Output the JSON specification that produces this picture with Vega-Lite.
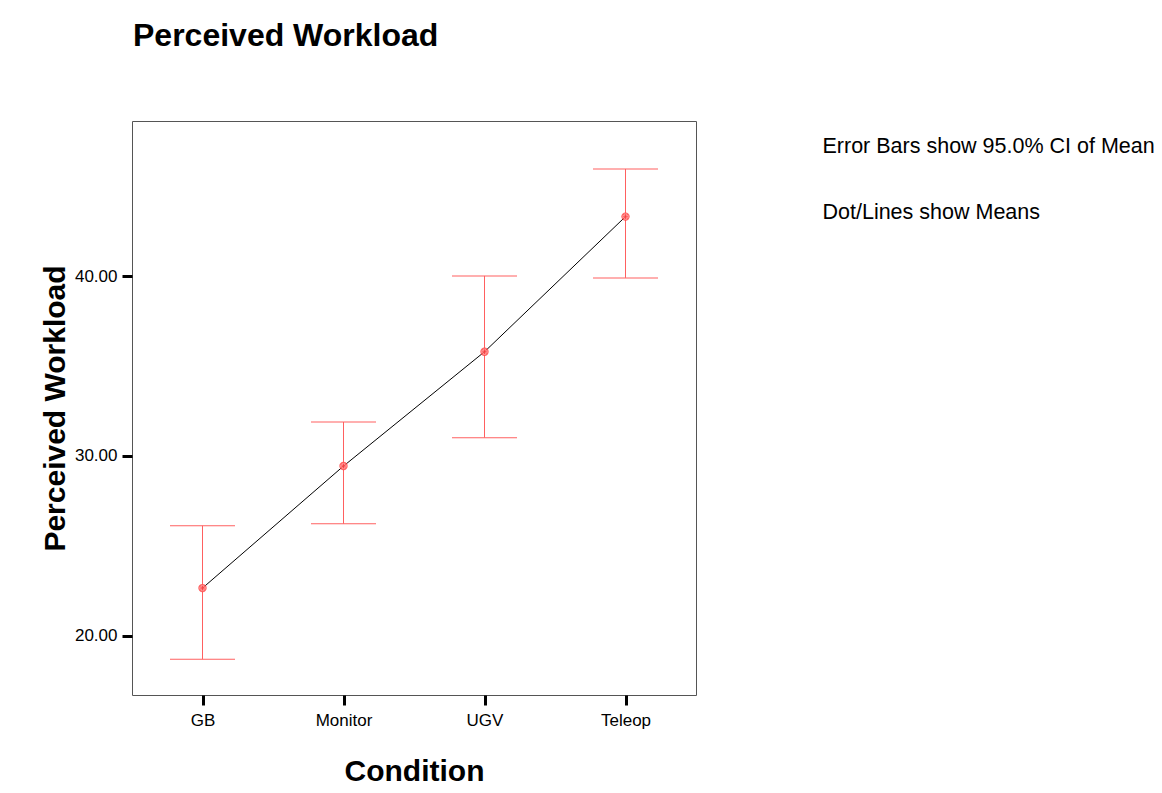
{
  "$schema": "https://vega.github.io/schema/vega-lite/v6.json",
  "autosize": "none",
  "width": 564,
  "height": 574,
  "padding": {"left": 132, "top": 121, "right": 466, "bottom": 98},
  "background": "white",
  "title": {
    "text": "Perceived Workload",
    "anchor": "start",
    "frame": "group",
    "fontSize": 32,
    "fontWeight": "bold",
    "baseline": "alphabetic",
    "offset": 43,
    "dx": 1,
    "color": "black"
  },
  "config": {
    "font": "Liberation Sans",
    "view": {"stroke": "#555555", "strokeWidth": 1},
    "axis": {
      "domain": false,
      "grid": false,
      "tickColor": "black",
      "tickWidth": 3,
      "tickSize": 10,
      "labelColor": "black",
      "labelFontSize": 17,
      "labelPadding": 5,
      "titleColor": "black",
      "titleFontSize": 30,
      "titleFontWeight": "bold"
    }
  },
  "datasets": {
    "stats": [
      {"condition": "GB", "mean": 22.65, "lower": 18.69, "upper": 26.12},
      {"condition": "Monitor", "mean": 29.44, "lower": 26.23, "upper": 31.89},
      {"condition": "UGV", "mean": 35.80, "lower": 31.02, "upper": 40.02},
      {"condition": "Teleop", "mean": 43.32, "lower": 39.91, "upper": 45.97}
    ],
    "notes": [
      {"note": "Error Bars show 95.0% CI of Mean"},
      {"note": "Dot/Lines show Means"}
    ]
  },
  "layer": [
    {
      "data": {"name": "stats"},
      "mark": {"type": "rule", "color": "#ff6060", "strokeWidth": 1},
      "encoding": {
        "x": {"field": "condition", "type": "nominal"},
        "y": {"field": "lower", "type": "quantitative"},
        "y2": {"field": "upper"}
      }
    },
    {
      "data": {"name": "stats"},
      "mark": {"type": "tick", "color": "#ff6060", "size": 65, "thickness": 1, "opacity": 1},
      "encoding": {
        "x": {"field": "condition", "type": "nominal"},
        "y": {"field": "upper", "type": "quantitative"}
      }
    },
    {
      "data": {"name": "stats"},
      "mark": {"type": "tick", "color": "#ff6060", "size": 65, "thickness": 1, "opacity": 1},
      "encoding": {
        "x": {"field": "condition", "type": "nominal"},
        "y": {"field": "lower", "type": "quantitative"}
      }
    },
    {
      "data": {"name": "stats"},
      "mark": {"type": "line", "color": "black", "strokeWidth": 1},
      "encoding": {
        "x": {"field": "condition", "type": "nominal"},
        "y": {"field": "mean", "type": "quantitative"}
      }
    },
    {
      "data": {"name": "stats"},
      "mark": {"type": "point", "filled": true, "color": "#ff4444", "size": 70, "opacity": 0.85, "shape": "circle"},
      "encoding": {
        "x": {"field": "condition", "type": "nominal"},
        "y": {"field": "mean", "type": "quantitative"}
      }
    },
    {
      "data": {"name": "stats"},
      "mark": {"type": "point", "filled": false, "color": "#ffaaaa", "size": 30, "strokeWidth": 1, "shape": "cross"},
      "encoding": {
        "x": {"field": "condition", "type": "nominal"},
        "y": {"field": "mean", "type": "quantitative"}
      }
    },
    {
      "data": {"name": "notes"},
      "mark": {"type": "point", "opacity": 0},
      "encoding": {
        "color": {
          "field": "note",
          "type": "nominal",
          "scale": {"domain": ["Error Bars show 95.0% CI of Mean", "Dot/Lines show Means"], "range": ["white", "white"]},
          "legend": {
            "orient": "none",
            "legendX": 669,
            "legendY": 15,
            "title": null,
            "labelFontSize": 21.5,
            "labelColor": "black",
            "labelLimit": 600,
            "labelOffset": 0,
            "symbolSize": 0,
            "symbolOpacity": 0,
            "symbolStrokeWidth": 0,
            "rowPadding": 43.5,
            "padding": 0
          }
        }
      }
    }
  ],
  "resolve": {"scale": {"color": "independent"}},
  "encoding": {
    "x": {
      "field": "condition",
      "type": "nominal",
      "sort": ["GB", "Monitor", "UGV", "Teleop"],
      "scale": {"type": "point", "padding": 0.5, "domain": ["GB", "Monitor", "UGV", "Teleop"]},
      "axis": {"title": "Condition", "labelAngle": 0, "labelPadding": 7, "titlePadding": 28}
    },
    "y": {
      "type": "quantitative",
      "scale": {"domain": [16.70, 48.64], "nice": false, "zero": false},
      "axis": {"title": "Perceived Workload", "values": [20, 30, 40], "format": ".2f", "titlePadding": 4}
    }
  }
}
